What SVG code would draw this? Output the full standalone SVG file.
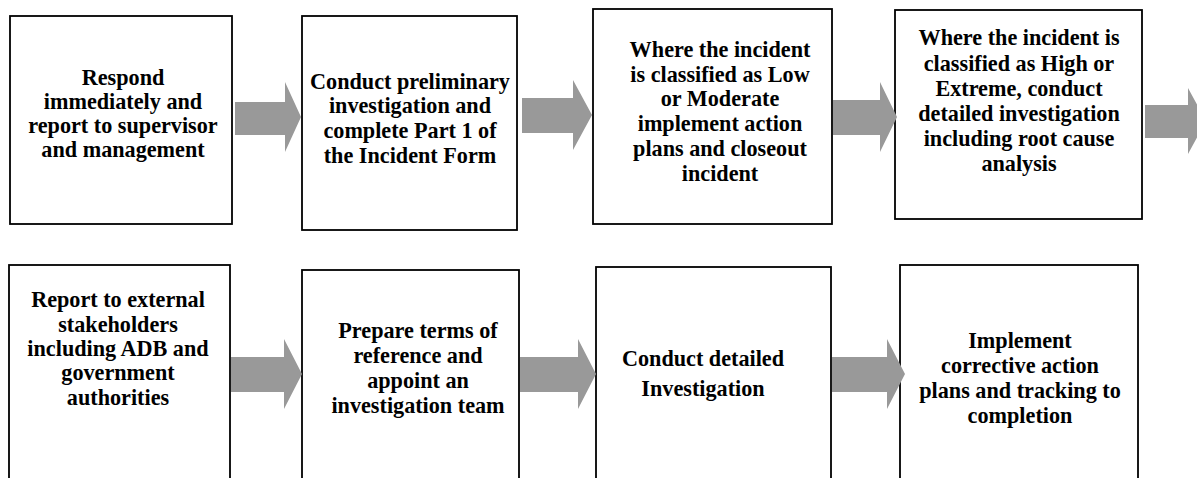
<svg xmlns="http://www.w3.org/2000/svg" width="1197" height="478" viewBox="0 0 1197 478">
<style>
.box{fill:#ffffff;stroke:#000000;stroke-width:1.8}
.t{font-family:"Liberation Serif","Times New Roman",serif;font-weight:bold;font-size:22.2px;fill:#000000;text-anchor:middle}
.arr{fill:#999999;stroke:none}
</style>
<rect width="1197" height="478" fill="#ffffff"/>
<g id="node1">
<rect class="box" x="10" y="16" width="222" height="208"/>
<text class="t"><tspan x="123" y="85">Respond</tspan><tspan x="123" y="109">immediately and</tspan><tspan x="123" y="133">report to supervisor</tspan><tspan x="123" y="157">and management</tspan></text>
</g>
<g id="node2">
<rect class="box" x="302" y="16" width="215" height="214"/>
<text class="t"><tspan x="410" y="89">Conduct preliminary</tspan><tspan x="410" y="113">investigation and</tspan><tspan x="410" y="138">complete Part 1 of</tspan><tspan x="410" y="163">the Incident Form</tspan></text>
</g>
<g id="node3">
<rect class="box" x="593" y="9" width="239" height="215"/>
<text class="t"><tspan x="720" y="57">Where the incident</tspan><tspan x="720" y="82">is classified as Low</tspan><tspan x="720" y="106">or Moderate</tspan><tspan x="720" y="131">implement action</tspan><tspan x="720" y="156">plans and closeout</tspan><tspan x="720" y="181">incident</tspan></text>
</g>
<g id="node4">
<rect class="box" x="895" y="10" width="247" height="209"/>
<text class="t"><tspan x="1019" y="45">Where the incident is</tspan><tspan x="1019" y="71">classified as High or</tspan><tspan x="1019" y="96">Extreme, conduct</tspan><tspan x="1019" y="121">detailed investigation</tspan><tspan x="1019" y="146">including root cause</tspan><tspan x="1019" y="171">analysis</tspan></text>
</g>
<g id="node5">
<rect class="box" x="9" y="265" width="221" height="230"/>
<text class="t"><tspan x="118" y="307">Report to external</tspan><tspan x="118" y="332">stakeholders</tspan><tspan x="118" y="356">including ADB and</tspan><tspan x="118" y="380">government</tspan><tspan x="118" y="405">authorities</tspan></text>
</g>
<g id="node6">
<rect class="box" x="302" y="270" width="217" height="230"/>
<text class="t"><tspan x="418" y="338">Prepare terms of</tspan><tspan x="418" y="363">reference and</tspan><tspan x="418" y="388">appoint an</tspan><tspan x="418" y="413">investigation team</tspan></text>
</g>
<g id="node7">
<rect class="box" x="596" y="267" width="235" height="230"/>
<text class="t"><tspan x="703" y="366">Conduct detailed</tspan><tspan x="703" y="396">Investigation</tspan></text>
</g>
<g id="node8">
<rect class="box" x="900" y="265" width="238" height="230"/>
<text class="t"><tspan x="1020" y="348">Implement</tspan><tspan x="1020" y="373">corrective action</tspan><tspan x="1020" y="398">plans and tracking to</tspan><tspan x="1020" y="423">completion</tspan></text>
</g>
<g id="connectors">
<polygon class="arr" points="235,102 285,102 285,82 301,117 285,152 285,135 235,135"/>
<polygon class="arr" points="522,98 573,98 573,80 592,115 573,150 573,133 522,133"/>
<polygon class="arr" points="833,100 880,100 880,82 897,117 880,152 880,135 833,135"/>
<polygon class="arr" points="1145,105 1188,105 1188,88 1206,121 1188,154 1188,138 1145,138"/>
<polygon class="arr" points="231,357 284,357 284,339 302,374 284,409 284,392 231,392"/>
<polygon class="arr" points="520,357 578,357 578,339 596,374 578,409 578,392 520,392"/>
<polygon class="arr" points="832,357 887,357 887,339 905,374 887,409 887,392 832,392"/>
</g>
</svg>
